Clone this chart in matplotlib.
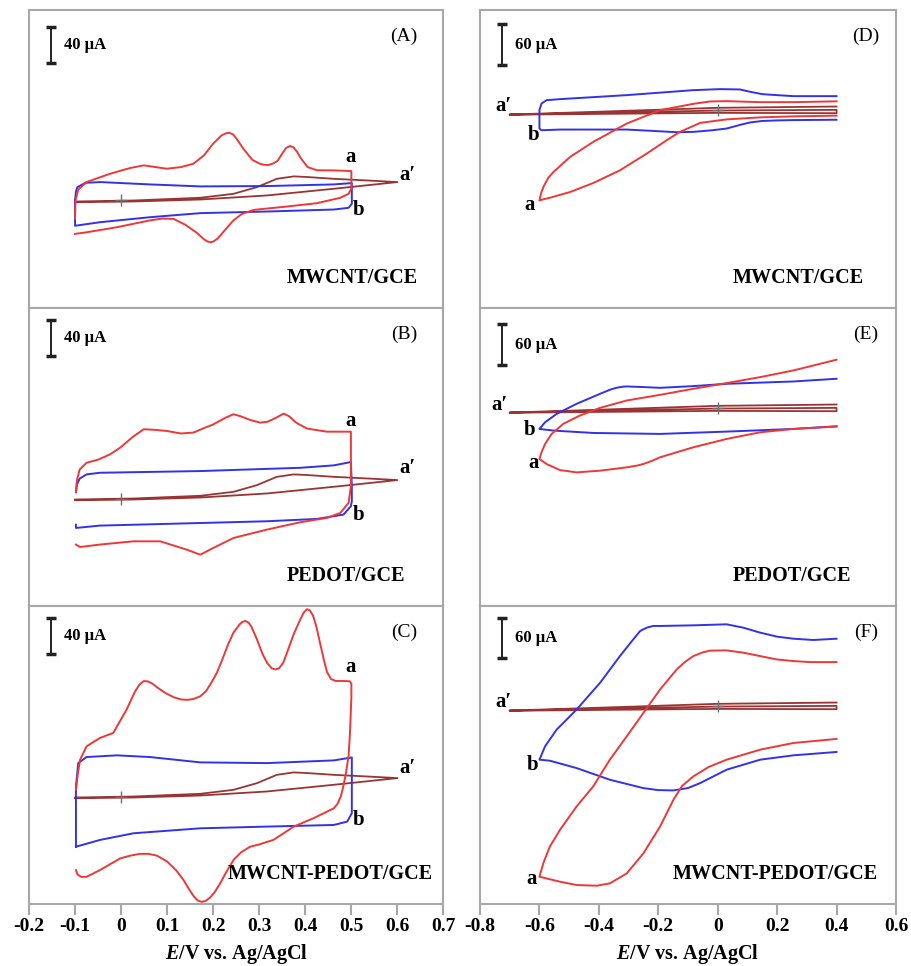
import numpy as np
import matplotlib
matplotlib.use('Agg')
import matplotlib.pyplot as plt

plt.rcParams['font.family'] = ['Liberation Serif', 'DejaVu Serif']
plt.rcParams['font.weight'] = 'bold'
plt.rcParams['axes.labelweight'] = 'bold'
plt.rcParams['axes.unicode_minus'] = False
plt.rcParams['mathtext.fontset'] = 'custom'
plt.rcParams['mathtext.rm'] = 'Liberation Serif:bold'
plt.rcParams['mathtext.it'] = 'Liberation Serif:italic:bold'
plt.rcParams['lines.solid_joinstyle'] = 'round'

# ---- data: (E / V, I / uA) ----
# left column, scan -0.1 .. 0.5 V (a' to 0.6 V)
A_red = np.array([
    (-0.1, -20), (-0.099, 0), (-0.093, 12), (-0.075, 20.4), (-0.024, 29.6), (0.02, 36),
    (0.049, 38.9), (0.075, 37), (0.099, 35.2), (0.13, 37), (0.157, 40.7), (0.18, 50),
    (0.2, 63), (0.218, 72), (0.227, 74.3), (0.235, 75), (0.243, 73.2), (0.25, 69),
    (0.266, 57), (0.285, 45), (0.302, 40.5), (0.31, 39.6), (0.32, 39.3), (0.33, 41),
    (0.34, 44), (0.35, 52), (0.358, 58), (0.367, 60.4), (0.374, 59), (0.382, 54),
    (0.39, 47), (0.405, 37), (0.425, 33.5), (0.462, 33.3), (0.5, 32.6), (0.5, 13),
    (0.494, 7.4), (0.476, 3), (0.425, -3), (0.36, -6.7), (0.288, -10.4), (0.262, -15),
    (0.244, -22), (0.225, -33), (0.21, -42), (0.2, -45.5), (0.195, -46.3), (0.188, -45.5),
    (0.18, -43), (0.165, -36), (0.14, -27), (0.114, -20.4), (0.09, -20), (0.063, -22),
    (-0.009, -29.6), (-0.075, -35.2), (-0.1, -37)])
A_blue = np.array([
    (-0.1, 0), (-0.098, 10), (-0.095, 14.8), (-0.077, 19.6), (-0.045, 20.4), (0.063, 17.8),
    (0.172, 15.6), (0.317, 16), (0.462, 17.8), (0.501, 19.3), (0.501, -3.7), (0.494, -8.1),
    (0.462, -10), (0.317, -12.2), (0.172, -14), (0.063, -18.5), (-0.045, -24), (-0.1, -28),
    (-0.1, 0)])
B_red = np.array([
    (-0.098, 7), (-0.096, 20), (-0.09, 32), (-0.075, 39.6), (-0.05, 43), (-0.024, 48.9),
    (-0.002, 56.3), (0.025, 68), (0.049, 76.7), (0.075, 76), (0.099, 74.8), (0.13, 72),
    (0.157, 73), (0.18, 78), (0.2, 82), (0.225, 89), (0.244, 93.3), (0.26, 91), (0.28, 87),
    (0.302, 84), (0.318, 85), (0.335, 89), (0.353, 94), (0.365, 91), (0.38, 84),
    (0.404, 77.4), (0.447, 74), (0.499, 74), (0.499, 13.7), (0.494, -4.8), (0.476, -16),
    (0.447, -21.5), (0.389, -26.3), (0.317, -34.4), (0.244, -43.7), (0.2, -54.8),
    (0.172, -62.2), (0.143, -56.7), (0.085, -47.4), (0.027, -47.4), (-0.046, -51),
    (-0.089, -53.7), (-0.098, -51)])
B_blue = np.array([
    (-0.098, 7), (-0.096, 15), (-0.09, 22), (-0.075, 26.7), (-0.046, 28.5), (0.172, 30.4),
    (0.389, 34), (0.462, 36.7), (0.499, 40.4), (0.501, 13.7), (0.501, -3), (0.499, -8.5),
    (0.483, -17.8), (0.425, -22.6), (0.317, -25.2), (0.099, -28.1), (-0.046, -30),
    (-0.098, -32.6), (-0.098, -29)])
C_red = np.array([
    (-0.098, 7.4), (-0.094, 25), (-0.089, 40.7), (-0.075, 55.6), (-0.046, 64.8),
    (-0.017, 70.4), (0.012, 96.3), (0.03, 116), (0.04, 124), (0.049, 127.8), (0.058, 127.5),
    (0.068, 125), (0.078, 121), (0.095, 115), (0.114, 110), (0.13, 107.5), (0.143, 107),
    (0.157, 108), (0.172, 111), (0.185, 117), (0.197, 127), (0.208, 137), (0.22, 152),
    (0.232, 168), (0.244, 181.5), (0.258, 191), (0.264, 193.5), (0.27, 194.4),
    (0.277, 192.5), (0.283, 188), (0.295, 174), (0.307, 158), (0.317, 148), (0.327, 142),
    (0.335, 140.7), (0.343, 142), (0.352, 148), (0.36, 159), (0.375, 180), (0.389, 196),
    (0.397, 204), (0.404, 207.4), (0.41, 206), (0.417, 200), (0.424, 188), (0.432, 170),
    (0.44, 152), (0.447, 138), (0.456, 130), (0.466, 128), (0.49, 127.8), (0.497, 127.5),
    (0.5, 125), (0.5, 110), (0.497, 70.4), (0.494, 45), (0.488, 25), (0.482, 10),
    (0.477, 0), (0.47, -8), (0.462, -13), (0.418, -24), (0.375, -33.3), (0.331, -48),
    (0.3, -53), (0.28, -55.6), (0.26, -62), (0.244, -70.4), (0.228, -84), (0.215, -96.3),
    (0.203, -106), (0.193, -112), (0.184, -115.5), (0.175, -116.7), (0.166, -115),
    (0.157, -110), (0.148, -103), (0.135, -92), (0.12, -82), (0.1, -72), (0.078, -65.5),
    (0.06, -63.5), (0.041, -63.5), (0.02, -65.5), (-0.002, -68.5), (-0.046, -81.5),
    (-0.075, -88.9), (-0.087, -89), (-0.095, -86), (-0.098, -81.5)])
C_blue = np.array([
    (-0.098, -55.6), (-0.098, 11), (-0.093, 37), (-0.075, 43.7), (-0.009, 45.6),
    (0.063, 43.7), (0.172, 37.8), (0.317, 37), (0.462, 40), (0.501, 43.3), (0.501, -18.5),
    (0.491, -27.8), (0.462, -31.5), (0.317, -33.3), (0.172, -35.2), (0.027, -40.7),
    (-0.046, -48.1), (-0.098, -55.6)])
left_bare = np.array([
    (-0.1, -1.9), (0.027, -1.1), (0.172, 1.1), (0.317, 5.6), (0.462, 13), (0.6, 20.4),
    (0.534, 22.2), (0.462, 24), (0.404, 26), (0.375, 26.7), (0.338, 24), (0.295, 14.8),
    (0.244, 7.4), (0.172, 3), (0.027, 0), (-0.1, -1.1)])

# right column, scan -0.6 .. 0.4 V (a' from -0.7 V)
D_red = np.array([
    (0.4, 12), (0.255, 10.8), (0.143, 10.8), (0.03, 12.3), (-0.026, 11.8), (-0.082, 8.3),
    (-0.194, -1), (-0.306, -20.6), (-0.419, -47.5), (-0.497, -69.6), (-0.553, -91.7),
    (-0.57, -100), (-0.585, -112), (-0.594, -122), (-0.6, -133.3), (-0.585, -131.5),
    (-0.565, -129.4), (-0.497, -121), (-0.419, -107.8), (-0.329, -89.2), (-0.239, -64.7),
    (-0.172, -45.1), (-0.127, -32.8), (-0.059, -19.6), (0.03, -14.5), (0.143, -11.5),
    (0.255, -10), (0.4, -9)])
D_blue = np.array([
    (0.4, 19.6), (0.255, 19.6), (0.199, 21.1), (0.15, 22.5), (0.109, 26), (0.075, 29.4),
    (0.008, 29.9), (-0.082, 28.4), (-0.306, 21.1), (-0.531, 15.2), (-0.576, 13.7),
    (-0.593, 8.8), (-0.6, -1), (-0.6, -27.9), (-0.593, -30.4), (-0.531, -29.4),
    (-0.306, -29.4), (-0.217, -31.4), (-0.138, -33.3), (-0.082, -32.8), (-0.02, -30.5),
    (0.03, -27.9), (0.08, -22), (0.109, -19), (0.15, -16.8), (0.199, -16), (0.255, -15.5),
    (0.4, -15)])
E_red = np.array([
    (0.4, 70.1), (0.255, 54.4), (0.143, 44.6), (0.03, 35.8), (-0.082, 27.5), (-0.194, 18.6),
    (-0.306, 10.3), (-0.396, -0.5), (-0.464, -11.8), (-0.52, -24), (-0.559, -38.7),
    (-0.581, -53.4), (-0.593, -65.7), (-0.6, -75.5), (-0.576, -82.8), (-0.531, -91.7),
    (-0.475, -95.1), (-0.396, -92.6), (-0.306, -87.7), (-0.27, -85), (-0.25, -82.8),
    (-0.22, -78), (-0.194, -73), (-0.082, -58.3), (0.03, -46.1), (0.143, -36.3),
    (0.255, -31.4), (0.4, -27.9)])
E_blue = np.array([
    (0.4, 42.2), (0.255, 38.2), (0.03, 34.8), (-0.082, 31.4), (-0.194, 28.9), (-0.25, 30),
    (-0.306, 30.9), (-0.32, 30.5), (-0.34, 29), (-0.36, 26.5), (-0.396, 20.1),
    (-0.475, 5.4), (-0.542, -9.3), (-0.581, -21.6), (-0.6, -31.4), (-0.553, -33.8),
    (-0.419, -37.3), (-0.194, -38.7), (0.03, -35.3), (0.255, -31.4), (0.4, -27.5)])
F_red = np.array([
    (0.4, 63.7), (0.311, 63.7), (0.255, 65.2), (0.199, 67.6), (0.143, 72.5), (0.086, 77.5),
    (0.03, 80.9), (-0.026, 80.5), (-0.05, 78), (-0.082, 72.5), (-0.11, 64), (-0.138, 52.9),
    (-0.194, 23.5), (-0.25, -10.8), (-0.306, -45.1), (-0.363, -79.4), (-0.419, -118.6),
    (-0.475, -148), (-0.531, -182.4), (-0.565, -206.9), (-0.587, -231.4), (-0.6, -251),
    (-0.531, -258.3), (-0.475, -263.2), (-0.407, -264.2), (-0.363, -260.8),
    (-0.306, -246.1), (-0.25, -216.7), (-0.194, -177.5), (-0.149, -138.2), (-0.12, -118),
    (-0.082, -103.9), (-0.03, -90), (0.03, -79.4), (0.143, -64.7), (0.255, -54.9),
    (0.4, -49)])
F_blue = np.array([
    (0.4, 98), (0.322, 96.1), (0.255, 98), (0.2, 101), (0.143, 106.9), (0.086, 114.2),
    (0.03, 119.1), (-0.082, 117.6), (-0.194, 116.7), (-0.217, 116.7), (-0.239, 114.2),
    (-0.261, 109.3), (-0.284, 97.1), (-0.329, 72.5), (-0.396, 33.3), (-0.475, -5.9),
    (-0.542, -35.3), (-0.581, -59.8), (-0.6, -79.4), (-0.565, -80.9), (-0.475, -91.7),
    (-0.363, -108.8), (-0.25, -121.1), (-0.2, -124), (-0.15, -124.5), (-0.1, -121),
    (-0.059, -113.7), (0.03, -94.1), (0.143, -79.4), (0.255, -73), (0.4, -68.1)])
right_bare = np.array([
    (0.4, 4.4), (0.0, 2.5), (-0.35, -2.5), (-0.7, -7.4), (-0.35, -4.5), (0.0, -1.5),
    (0.4, -0.5), (0.4, -5.4), (0.0, -4.9), (-0.7, -7.6)])

left_ticks = [-0.2, -0.1, 0, 0.1, 0.2, 0.3, 0.4, 0.5, 0.6, 0.7]
left_ticklabels = ['-0.2', '-0.1', '0', '0.1', '0.2', '0.3', '0.4', '0.5', '0.6', '0.7']
right_ticks = [-0.8, -0.6, -0.4, -0.2, 0, 0.2, 0.4, 0.6]
right_ticklabels = ['-0.8', '-0.6', '-0.4', '-0.2', '0', '0.2', '0.4', '0.6']

electrodes = ['MWCNT/GCE', 'PEDOT/GCE', 'MWCNT-PEDOT/GCE']

RED, BLUE, BROWN = '#ee3838', '#3232e6', '#9a3434'
FRAME = '#a8a8a8'

fig = plt.figure(figsize=(9.11, 9.66), dpi=100)
bottoms = [0.6812, 0.3727, 0.0642]
H = 0.3085

panels = [
    # tag, col, row, red, blue, sample x, scalebar lo
    ('A', 0, 0, A_red, A_blue, 0.622, 152),
    ('B', 0, 1, B_red, B_blue, 0.622, 158),
    ('C', 0, 2, C_red, C_blue, 0.479, 158),
    ('D', 1, 0, D_red, D_blue, 0.608, 65),
    ('E', 1, 1, E_red, E_blue, 0.608, 62),
    ('F', 1, 2, F_red, F_blue, 0.464, 69),
]

label_pos = {
    'A': {'a': (0.499, 48), 'b': (0.516, -11), "a'": (0.621, 28)},
    'B': {'a': (0.499, 86), 'b': (0.516, -18), "a'": (0.621, 34)},
    'C': {'a': (0.499, 143), 'b': (0.516, -26), "a'": (0.621, 32)},
    'D': {'a': (-0.632, -140), 'b': (-0.619, -38), "a'": (-0.722, 5)},
    'E': {'a': (-0.619, -82), 'b': (-0.632, -33), "a'": (-0.733, 4)},
    'F': {'a': (-0.626, -254), 'b': (-0.623, -87), "a'": (-0.722, 5)},
}

for tag, col, row, red, blue, sx, sb in panels:
    if col == 0:
        ax = fig.add_axes([0.0318, bottoms[row], 0.455, H])
        ax.set_xlim(-0.2, 0.7)
        ax.set_ylim(-119, 211)
        bare = left_bare
        bar_x, txt_x, bar_len, unit = -0.153, -0.125, 40, '40 \u00b5A'
        ticks, ticklabels = left_ticks, left_ticklabels
        tag_x = 0.905
    else:
        ax = fig.add_axes([0.5269, bottoms[row], 0.4566, H])
        ax.set_xlim(-0.8, 0.6)
        ax.set_ylim(-291, 146)
        bare = right_bare
        bar_x, txt_x, bar_len, unit = -0.727, -0.682, 60, '60 \u00b5A'
        ticks, ticklabels = right_ticks, right_ticklabels
        tag_x = 0.928

    ax.plot(bare[:, 0], bare[:, 1], color=BROWN, lw=1.3)
    ax.plot(blue[:, 0], blue[:, 1], color=BLUE, lw=1.4)
    ax.plot(red[:, 0], red[:, 1], color=RED, lw=1.4)
    ax.plot(0, 0, '+', color='#707070', ms=9, mew=1.0)

    # scale bar
    ax.plot([bar_x, bar_x], [sb, sb + bar_len], color='#222222', lw=1.4)
    ax.plot([bar_x, bar_x], [sb, sb + bar_len], '_', color='#222222', ms=7, mew=2.5)
    ax.text(txt_x, sb + bar_len / 2, unit, fontsize=12, ha='left', va='center')

    ax.text(tag_x, 0.91, '(%s)' % tag, transform=ax.transAxes, fontsize=14,
            fontweight='normal', ha='center', va='center')
    ax.text(sx, 0.10, electrodes[row], transform=ax.transAxes, fontsize=14.5,
            ha='left', va='center')

    for name, (x, y) in label_pos[tag].items():
        txt = 'a\u2032' if name == "a'" else name
        ax.text(x, y, txt, fontsize=15, ha='center', va='center')

    for s in ax.spines.values():
        s.set_color(FRAME)
        s.set_linewidth(1.5)
    ax.set_yticks([])
    if row == 2:
        ax.set_xticks(ticks)
        ax.set_xticklabels(ticklabels)
        ax.tick_params(axis='x', direction='out', length=8, width=1.5, color=FRAME,
                       pad=2, labelsize=14)
        ax.set_xlabel(r'$E$/V vs. Ag/AgCl', fontsize=14.5, fontweight='bold', labelpad=5)
    else:
        ax.set_xticks([])

fig.savefig('out.png', dpi=100)
